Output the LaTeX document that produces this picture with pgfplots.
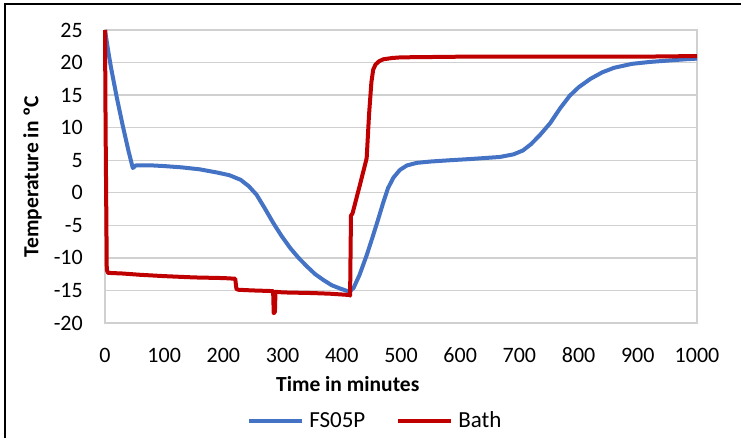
\documentclass[border=0pt]{standalone}
\usepackage{fontspec}
\setmainfont{Carlito}
\usepackage{pgfplots}
\pgfplotsset{compat=1.18}

\definecolor{fsblue}{HTML}{4472C4}
\definecolor{bathred}{HTML}{C00000}
\definecolor{gridgray}{HTML}{D0D0D0}

\pgfplotstableread{
t T
0 25
5 22
10 19.3
20 14.6
30 10.3
40 6.3
47 3.8
52 4.2
80 4.2
100 4.1
130 3.9
160 3.6
190 3.1
210 2.7
229 2.0
243 1.0
256 -0.3
270 -2.4
284 -4.6
298 -6.6
313 -8.5
327 -10.0
341 -11.3
355 -12.5
369 -13.4
383 -14.2
397 -14.7
413 -15.2
420 -14.6
430 -12.6
442 -9.6
452 -6.8
461 -4.2
470 -1.5
478 0.7
487 2.3
498 3.5
510 4.2
527 4.6
550 4.8
583 5.0
620 5.2
667 5.5
690 5.9
706 6.5
720 7.5
735 8.9
752 10.7
769 13.0
785 14.9
800 16.2
820 17.5
840 18.5
860 19.2
890 19.8
921 20.1
950 20.3
980 20.5
1000 20.6
}\fsdata

\pgfplotstableread{
t T
0 25
1 10
3 -11.8
5 -12.3
30 -12.4
60 -12.6
100 -12.8
150 -13.0
200 -13.1
220 -13.2
222 -14.8
226 -14.9
250 -15.0
284 -15.1
285 -18.5
287 -18.3
288 -15.2
300 -15.3
350 -15.4
380 -15.5
413 -15.7
414 -15.8
415.5 -3.5
418 -3.2
430 1.0
442 5.3
446 12
450 17
453 18.9
457 19.7
463 20.2
470 20.5
485 20.7
500 20.8
600 20.9
700 20.9
800 20.9
900 20.9
1000 21.0
}\bathdata

\begin{document}
\begin{tikzpicture}
\path[use as bounding box] (0pt,0pt) rectangle (741pt,437pt);
\draw[line width=2pt] (5pt,-20pt) -- (5pt,433pt) -- (760pt,433pt);
\begin{axis}[
    at={(105pt,114pt)}, anchor=south west,
    scale only axis,
    width=592pt, height=293pt,
    xmin=0, xmax=1000, ymin=-20, ymax=25,
    xtick={0,100,...,1000},
    ytick={-20,-15,...,25},
    clip=false,
    ymajorgrids,
    grid style={draw=gridgray, line width=1.3pt},
    axis line style={draw=gridgray, line width=1.3pt},
    major tick length=0pt,
    tick style={draw=none},
    /pgf/number format/assume math mode=true,
    /pgf/number format/1000 sep={},
    tick label style={font=\fontsize{22}{26}\selectfont},
    xticklabel style={anchor=center, yshift=-32pt},
    yticklabel style={anchor=east, inner sep=0pt, xshift=-22pt},
    xlabel={Time in minutes},
    ylabel={Temperature in ºC},
    label style={font=\bfseries\fontsize{21.5}{25}\selectfont, inner sep=0pt},
    xlabel style={at={(axis description cs:0.41,-0.2072)}, anchor=center},
    ylabel style={at={(axis description cs:-0.1225,0.5)}, anchor=center},
    legend columns=2,
    legend style={draw=none, fill=none, inner sep=0pt,
        at={(axis description cs:0.455,-0.3334)}, anchor=center,
        font=\fontsize{23}{27}\selectfont,
        nodes={inner sep=0pt},
        /tikz/every odd column/.append style={column sep=5pt},
        /tikz/every even column/.append style={column sep=31pt}},
    legend image code/.code={\draw[#1, line width=4pt] (0pt,0pt) -- (53pt,0pt);},
]
\addplot[fsblue, line width=4pt, line join=round] table[x=t, y=T] {\fsdata};
\addplot[bathred, line width=4pt, line join=round] table[x=t, y=T] {\bathdata};
\legend{FS05P, Bath}
\end{axis}
\end{tikzpicture}
\end{document}
